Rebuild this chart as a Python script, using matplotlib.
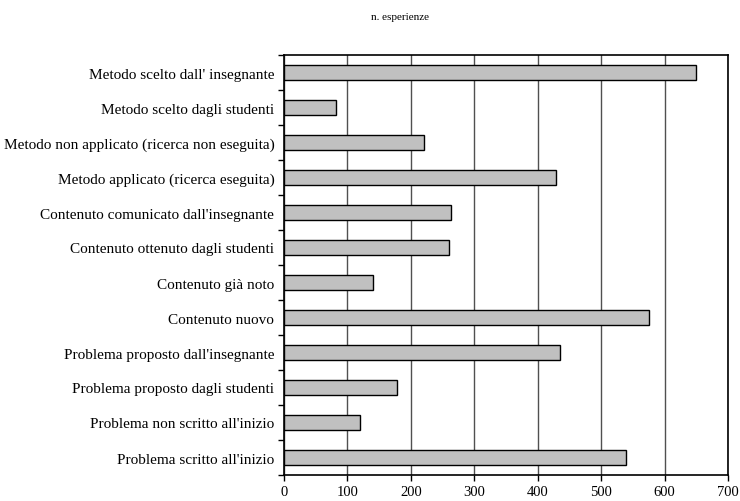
import numpy as np
import matplotlib
matplotlib.use("Agg")
import matplotlib.pyplot as plt

categorie = [
    "Metodo scelto dall' insegnante",
    "Metodo scelto dagli studenti",
    "Metodo non applicato (ricerca non eseguita)",
    "Metodo applicato (ricerca eseguita)",
    "Contenuto comunicato dall'insegnante",
    "Contenuto ottenuto dagli studenti",
    "Contenuto già noto",
    "Contenuto nuovo",
    "Problema proposto dall'insegnante",
    "Problema proposto dagli studenti",
    "Problema non scritto all'inizio",
    "Problema scritto all'inizio",
]
esperienze = [650, 82, 220, 429, 264, 260, 141, 576, 435, 178, 120, 539]
x_ticks = [0, 100, 200, 300, 400, 500, 600, 700]

plt.rcParams['font.family'] = ['Liberation Serif', 'DejaVu Serif']

fig = plt.figure(figsize=(7.4, 5.02), dpi=100)
ax = fig.add_axes([284 / 740, 1 - 476 / 502, 444 / 740, 420 / 502])

n = len(categorie)
pos = np.arange(n)
ax.barh(pos, esperienze, height=0.43, color='#c0c0c0', edgecolor='black', linewidth=1.0, zorder=3)

ax.set_xlim(0, 700)
ax.set_ylim(n - 0.5, -0.5)
ax.set_xticks(x_ticks)
ax.set_xticklabels([str(v) for v in x_ticks], fontsize=10.5)
ax.tick_params(axis='x', direction='out', length=4, width=1, pad=3)

# tacche ai confini delle categorie, etichette al centro
ax.set_yticks(np.arange(n + 1) - 0.5)
ax.set_yticklabels([])
ax.tick_params(axis='y', which='major', direction='out', length=4, width=1)
ax.set_yticks(pos, minor=True)
ax.set_yticklabels(categorie, minor=True, fontsize=11)
ax.tick_params(axis='y', which='minor', length=0, pad=7)

ax.grid(axis='x', color='#505050', linewidth=1.0, zorder=0)
for s in ax.spines.values():
    s.set_linewidth(1.2)
    s.set_color('black')

fig.text(0.5405, 1 - 18 / 502, "n. esperienze", ha='center', va='center', fontsize=8)

fig.savefig("out.png", dpi=100)
